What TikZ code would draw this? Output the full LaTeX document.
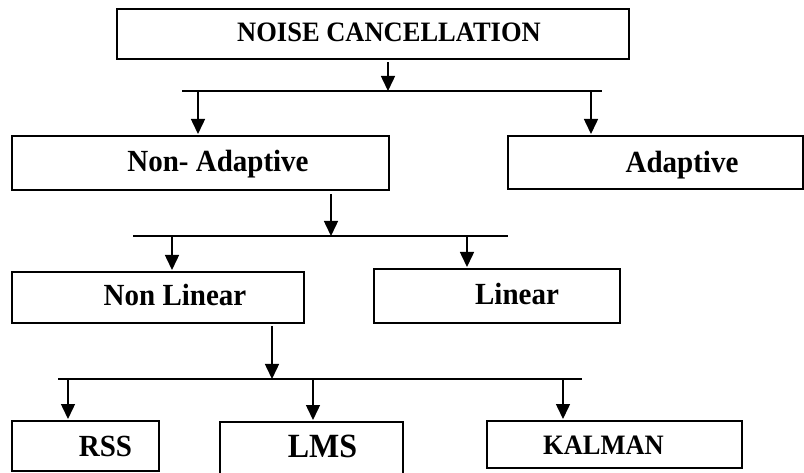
\documentclass[tikz,border=0pt]{standalone}
\usepackage{fontspec}
\setmainfont{Liberation Serif}
\usetikzlibrary{arrows.meta}
\newcommand{\tallt}[1]{\scalebox{1}[1.06]{#1}}
\begin{document}
\begin{tikzpicture}[x=1pt,y=-1pt,
  box/.style={draw, line width=2pt, rectangle, inner sep=0pt, outer sep=0pt, anchor=north west},
  lbl/.style={anchor=base, inner sep=0pt, font=\bfseries\fontsize{29}{34}\selectfont},
  lblbig/.style={anchor=base, inner sep=0pt, font=\bfseries\fontsize{32}{37}\selectfont},
  lblcap/.style={anchor=base, inner sep=0pt, font=\bfseries\fontsize{26.5}{31}\selectfont},
  conn/.style={line width=1.5pt},
  arr/.style={conn, -{Triangle[width=14pt,length=15pt]}}]
\useasboundingbox (0,0) rectangle (804,473);
\clip (0,0) rectangle (804,473);
\fill[white] (0,0) rectangle (804,473);
% boxes
\node[box, minimum width=512pt, minimum height=50pt] (noise) at (117,9.5) {};
\node[box, minimum width=377pt, minimum height=54pt] (nonad) at (12,136) {};
\node[box, minimum width=295pt, minimum height=53pt] (adapt) at (508,136) {};
\node[box, minimum width=292pt, minimum height=51pt] (nonlin) at (12,272) {};
\node[box, minimum width=246pt, minimum height=54pt] (linear) at (374,269) {};
\node[box, minimum width=147pt, minimum height=49.5pt] (rss) at (12,421) {};
\node[box, minimum width=183pt, minimum height=60pt] (lms) at (220,422) {};
\node[box, minimum width=255pt, minimum height=47pt] (kalman) at (487,421) {};
% labels
\node[lblcap] (tnoise) at (389,42) {\tallt{NOISE CANCELLATION}};
\node[lbl] (tnonad) at (218,172) {\tallt{Non- Adaptive}};
\node[lbl] (tadapt) at (682,173) {\tallt{Adaptive}};
\node[lbl] (tnonlin) at (175,306) {\tallt{Non Linear}};
\node[lbl] (tlinear) at (517,305) {\tallt{Linear}};
\node[lbl] (trss) at (105.5,456) {\tallt{RSS}};
\node[lblbig] (tlms) at (322.5,457) {\tallt{LMS}};
\node[lblcap] (tkalman) at (603.5,454) {\tallt{KALMAN}};
% bus coordinates
\coordinate (j1) at (388,91);
\coordinate (b1L) at (182,91); \coordinate (b1R) at (602,91);
\coordinate (d1a) at (198,91); \coordinate (d1b) at (591,91);
\coordinate (j2) at (331,236);
\coordinate (b2L) at (133,236); \coordinate (b2R) at (508,236);
\coordinate (d2a) at (172,236); \coordinate (d2b) at (467,236);
\coordinate (j3) at (272,379);
\coordinate (b3L) at (58,379); \coordinate (b3R) at (582,379);
\coordinate (d3a) at (68,379); \coordinate (d3b) at (313,379); \coordinate (d3c) at (563,379);
% level 1
\draw[arr] (noise.south -| j1) ++(0,3) -- (j1);
\draw[conn] (b1L) -- (b1R);
\draw[arr, shorten >=2pt] (d1a) -- (d1a |- nonad.north);
\draw[arr, shorten >=2pt] (d1b) -- (d1b |- adapt.north);
% level 2
\draw[arr] (nonad.south -| j2) ++(0,4) -- (j2);
\draw[conn] (b2L) -- (b2R);
\draw[arr, shorten >=2pt] (d2a) -- (d2a |- nonlin.north);
\draw[arr, shorten >=2pt] (d2b) -- (d2b |- linear.north);
% level 3
\draw[arr] (nonlin.south -| j3) ++(0,3) -- (j3);
\draw[conn] (b3L) -- (b3R);
\draw[arr, shorten >=2pt] (d3a) -- (d3a |- rss.north);
\draw[arr, shorten >=2pt] (d3b) -- (d3b |- lms.north);
\draw[arr, shorten >=2pt] (d3c) -- (d3c |- kalman.north);
\end{tikzpicture}
\end{document}
